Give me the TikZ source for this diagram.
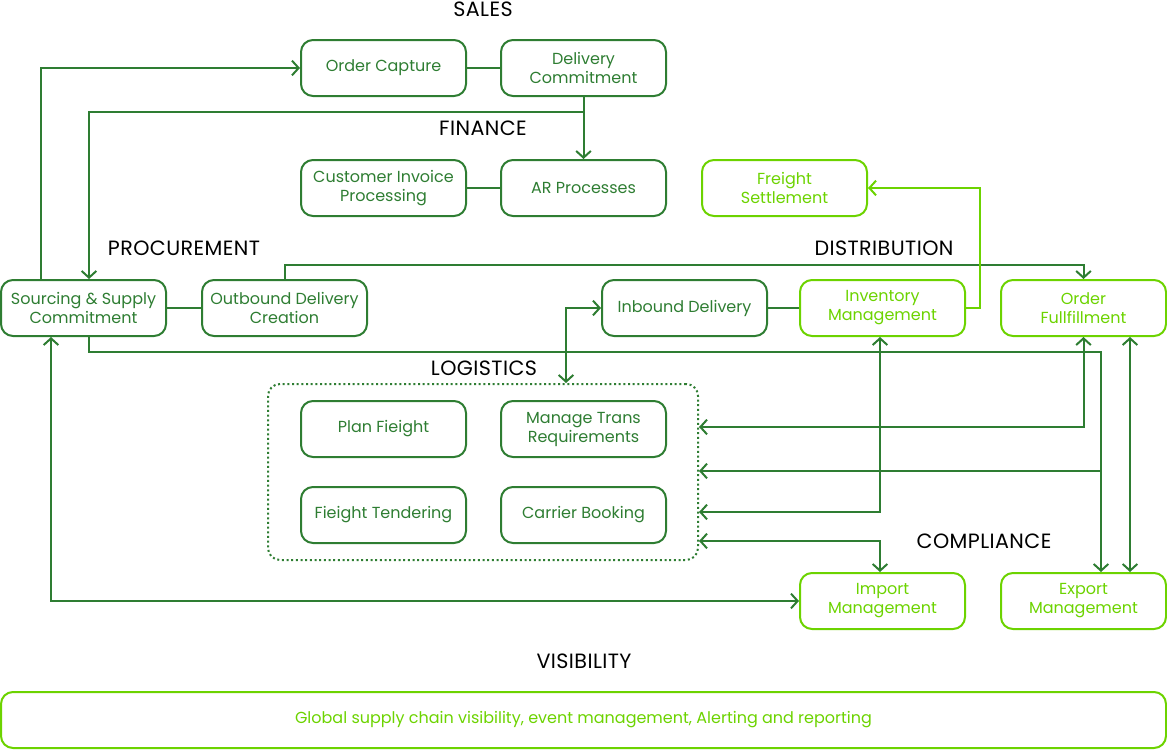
\documentclass[tikz,border=0pt]{standalone}
\usepackage{fontspec}
\setmainfont{Poppins}
\usetikzlibrary{arrows.meta}
\definecolor{dkg}{HTML}{2E7D32}
\definecolor{ltg}{HTML}{6CD300}
\tikzset{
  box/.style={draw=dkg, text=dkg, line width=1.5pt, rounded corners=9pt,
    minimum width=123.75pt, minimum height=42pt, inner sep=1pt, align=center,
    font=\fontsize{12}{14.25}\selectfont},
  lbox/.style={box, draw=ltg, text=ltg},
  ttl/.style={text=black, font=\fontsize{15.5}{17}\selectfont\addfontfeatures{LetterSpace=2}, inner sep=0pt},
  con/.style={draw=dkg, line width=1.5pt},
  lcon/.style={draw=ltg, line width=1.5pt},
  tip/.tip={Straight Barb[length=5pt,width=11pt,line width=1.5pt]},
  arr/.style={con, -tip},
  arrB/.style={con, tip-tip},
  larr/.style={lcon, -tip},
}
\begin{document}
\begin{tikzpicture}[x=0.75pt,y=-0.75pt]
\useasboundingbox (0,0) rectangle (1167,750);
% titles
\node[ttl] (tSales) at (483,9) {SALES};
\node[ttl] (tFin) at (483,128) {FINANCE};
\node[ttl] (tProc) at (184,248) {PROCUREMENT};
\node[ttl] (tDist) at (884,248) {DISTRIBUTION};
\node[ttl] (tLog) at (484,368) {LOGISTICS};
\node[ttl] (tComp) at (984,541) {COMPLIANCE};
\node[ttl] (tVis) at (584,661) {VISIBILITY};
% logistics group
\node[draw=dkg, line width=1.5pt, dotted, rounded corners=9pt,
  minimum width=322.5pt, minimum height=132pt, inner sep=0pt] (lg) at (483,472) {};
% boxes
\node[box] (oc) at (383.5,68) {Order Capture};
\node[box] (dc) at (583.5,68) {Delivery\\Commitment};
\node[box] (cip) at (383.5,188) {Customer Invoice\\Processing};
\node[box] (ar) at (583.5,188) {AR Processes};
\node[lbox] (fs) at (784.5,188) {Freight\\Settlement};
\node[box] (src) at (83.5,308) {Sourcing \& Supply\\Commitment};
\node[box] (ob) at (284.5,308) {Outbound Delivery\\Creation};
\node[box] (ib) at (684.5,308) {Inbound Delivery};
\node[lbox] (inv) at (882.5,308) {Inventory\\Management};
\node[lbox] (of) at (1083.5,308) {Order\\Fullfillment};
\node[box] (pf) at (383.5,429) {Plan Fieight};
\node[box] (mt) at (583.5,429) {Manage Trans\\Requirements};
\node[box] (ft) at (383.5,515) {Fieight Tendering};
\node[box] (cb) at (583.5,515) {Carrier Booking};
\node[lbox] (im) at (882.5,601) {Import\\Management};
\node[lbox] (ex) at (1083.5,601) {Export\\Management};
\node[lbox, minimum width=873.75pt] (vis) at (583.5,720) {Global supply chain visibility, event management, Alerting and reporting};
% plain links
\draw[con] (oc) -- (dc);
\draw[con] (cip) -- (ar);
\draw[con] (src) -- (ob);
\draw[con] (ib) -- (inv);
% arrows
\draw[arr] (src.north -| 41,0) |- (oc.west);
\draw[arr] (dc.south) -- (ar.north);
\draw[arr] (dc.south |- 0,112) -| (src.north -| 89,0);
\draw[arr] (ob.north) |- (1083.5,265) -- (of.north);
\draw[larr] (inv.east) -| (980,188) -- (fs.east);
\draw[arr] (src.south -| 89,0) |- (1101,352) -- (ex.north -| 1101,0);
\draw[arr] (1101,471) -- (lg.east |- 0,471);
\draw[arrB] (ib.west) -| (lg.north -| 566,0);
\draw[arrB] (of.south) |- (lg.east |- 0,427);
\draw[arrB] (inv.south -| 880,0) |- (lg.east |- 0,512);
\draw[arrB] (lg.east |- 0,541) -| (im.north -| 880,0);
\draw[arrB] (of.south -| 1130,0) -- (ex.north -| 1130,0);
\draw[arrB] (src.south -| 51,0) |- (im.west);
\end{tikzpicture}
\end{document}
